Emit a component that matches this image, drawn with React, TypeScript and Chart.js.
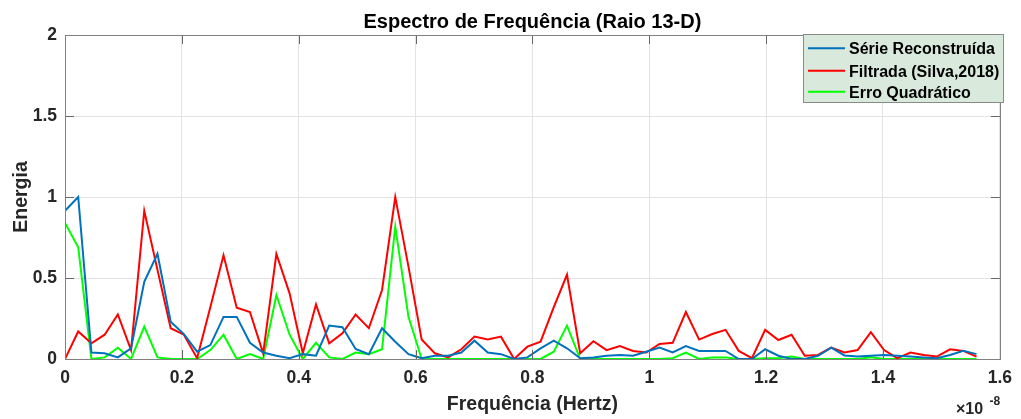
import React, { useEffect, useRef } from 'react';
import { Chart, registerables } from 'chart.js';
Chart.register(...registerables);

// frequency bin width, in units of 1e-8 Hz
const FREQ_STEP = 0.02261;

const SERIE_RECONSTRUIDA = [
  0.915, 1.0, 0.04, 0.035, 0.01, 0.066, 0.477, 0.65, 0.23, 0.154,
  0.045, 0.086, 0.26, 0.26, 0.1, 0.04, 0.02, 0.005, 0.03, 0.02,
  0.206, 0.196, 0.062, 0.03, 0.19, 0.107, 0.03, 0.005, 0.02, 0.02,
  0.04, 0.113, 0.04, 0.03, 0.0, 0.01, 0.066, 0.113, 0.066, 0.005,
  0.01, 0.02, 0.025, 0.02, 0.045, 0.07, 0.04, 0.08, 0.05, 0.05,
  0.05, 0.0, 0.0, 0.06, 0.02, 0.0, 0.0, 0.02, 0.07, 0.022,
  0.015, 0.02, 0.025, 0.02, 0.015, 0.01, 0.005, 0.025, 0.05, 0.03,
];

const FILTRADA = [
  0.0, 0.17, 0.097, 0.15, 0.275, 0.055, 0.915, 0.55, 0.19, 0.15,
  0.005, 0.32, 0.64, 0.317, 0.29, 0.035, 0.648, 0.405, 0.035, 0.337,
  0.097, 0.158, 0.275, 0.19, 0.426, 1.0, 0.57, 0.12, 0.035, 0.01,
  0.06, 0.138, 0.12, 0.138, 0.0, 0.076, 0.107, 0.32, 0.52, 0.035,
  0.11, 0.055, 0.08, 0.05, 0.04, 0.093, 0.1, 0.29, 0.12, 0.154,
  0.18, 0.05, 0.005, 0.18, 0.117, 0.15, 0.02, 0.025, 0.07, 0.04,
  0.055, 0.165, 0.055, 0.005, 0.04, 0.025, 0.015, 0.06, 0.05, 0.015,
];

const ERRO_QUADRATICO = [
  0.84, 0.69, 0.0, 0.01, 0.07, 0.0, 0.2, 0.01, 0.0, 0.0,
  0.0, 0.055, 0.15, 0.0, 0.03, 0.0, 0.395, 0.15, 0.0, 0.1,
  0.01, 0.0, 0.04, 0.03, 0.06, 0.817, 0.26, 0.0, 0.0, 0.0,
  0.0, 0.0, 0.0, 0.0, 0.0, 0.0, 0.0, 0.045, 0.206, 0.0,
  0.0, 0.0, 0.0, 0.0, 0.0, 0.0, 0.005, 0.04, 0.0, 0.01,
  0.01, 0.0, 0.0, 0.005, 0.005, 0.015, 0.0, 0.0, 0.0, 0.0,
  0.0, 0.01, 0.0, 0.0, 0.0, 0.0, 0.0, 0.0, 0.0, 0.0,
];

const X_TICKS = [0, 0.2, 0.4, 0.6, 0.8, 1, 1.2, 1.4, 1.6];
const Y_TICKS = [0, 0.5, 1, 1.5, 2];
const SERIES_LABELS = ['Série Reconstruída', 'Filtrada (Silva,2018)', 'Erro Quadrático'];
const SERIES_COLORS = ['#0072BD', '#FF0000', '#00FF00'];
const TITLE = 'Espectro de Frequência (Raio 13-D)';
const X_TITLE = 'Frequência (Hertz)';
const Y_TITLE = 'Energia';

const FONT = '"Liberation Sans", Arial, Helvetica, sans-serif';

export default function App() {
  const ref = useRef<HTMLCanvasElement>(null);

  useEffect(() => {
    const toPts = (arr: number[]) => arr.map((y, i) => ({ x: i * FREQ_STEP, y }));
    const seriesData = [SERIE_RECONSTRUIDA, FILTRADA, ERRO_QUADRATICO];

    const deco = {
      id: 'deco',
      afterDraw(chart: any) {
        const ctx = chart.ctx as CanvasRenderingContext2D;
        const a = chart.chartArea;
        const xs = chart.scales.x;
        const ys = chart.scales.y;
        ctx.save();
        // inward ticks
        ctx.strokeStyle = '#666666';
        ctx.lineWidth = 1;
        const tl = 9;
        ctx.beginPath();
        X_TICKS.forEach((v) => {
          const px = Math.round(xs.getPixelForValue(v)) + 0.5;
          ctx.moveTo(px, a.bottom);
          ctx.lineTo(px, a.bottom - tl);
          ctx.moveTo(px, a.top);
          ctx.lineTo(px, a.top + tl);
        });
        Y_TICKS.forEach((v) => {
          const py = Math.round(ys.getPixelForValue(v)) + 0.5;
          ctx.moveTo(a.left, py);
          ctx.lineTo(a.left + tl, py);
          ctx.moveTo(a.right, py);
          ctx.lineTo(a.right - tl, py);
        });
        ctx.stroke();
        // box
        ctx.strokeStyle = '#808080';
        ctx.strokeRect(Math.round(a.left) + 0.5, Math.round(a.top) + 0.5,
          Math.round(a.right - a.left), Math.round(a.bottom - a.top));

        // title
        ctx.fillStyle = '#000000';
        ctx.textAlign = 'center';
        ctx.textBaseline = 'alphabetic';
        ctx.font = `bold 20px ${FONT}`;
        ctx.fillText(TITLE, (a.left + a.right) / 2, 27.5);

        // axis titles
        ctx.fillStyle = '#262626';
        ctx.font = `bold 19.5px ${FONT}`;
        ctx.fillText(X_TITLE, (a.left + a.right) / 2, 409.5);
        ctx.save();
        ctx.translate(26.5, (a.top + a.bottom) / 2);
        ctx.rotate(-Math.PI / 2);
        ctx.fillText(Y_TITLE, 0, 0);
        ctx.restore();

        // exponent
        ctx.textAlign = 'left';
        ctx.font = `bold 16px ${FONT}`;
        ctx.fillText('×10', 956, 413.5);
        ctx.font = `bold 12px ${FONT}`;
        ctx.fillText('-8', 989.5, 405);

        // legend
        const lx = 803, ly = 34, lw = 200, lh = 68;
        ctx.fillStyle = 'rgb(217,233,220)';
        ctx.fillRect(lx, ly, lw, lh);
        ctx.strokeStyle = '#8a8a8a';
        ctx.lineWidth = 1;
        ctx.strokeRect(lx + 0.5, ly + 0.5, lw, lh);
        ctx.font = `bold 16px ${FONT}`;
        ctx.textAlign = 'left';
        ctx.textBaseline = 'alphabetic';
        const rows = [48.3, 70.7, 91.7];
        SERIES_LABELS.forEach((lab, i) => {
          ctx.strokeStyle = SERIES_COLORS[i];
          ctx.lineWidth = 2;
          ctx.beginPath();
          ctx.moveTo(808, rows[i]);
          ctx.lineTo(845, rows[i]);
          ctx.stroke();
          ctx.fillStyle = '#000000';
          ctx.fillText(lab, 849, rows[i] + 5.8);
        });
        ctx.restore();
      },
    };

    const chart = new Chart(ref.current as HTMLCanvasElement, {
      type: 'line',
      data: {
        datasets: SERIES_LABELS.map((label, i) => ({
          label,
          data: toPts(seriesData[i]),
          borderColor: SERIES_COLORS[i],
          backgroundColor: SERIES_COLORS[i],
          borderWidth: 2,
          pointRadius: 0,
          tension: 0,
          fill: false,
        })),
      },
      options: {
        responsive: false,
        animation: false,
        events: [],
        layout: { padding: { top: 35, right: 16, left: 0, bottom: 0 } },
        plugins: {
          legend: { display: false },
          title: { display: false },
          tooltip: { enabled: false },
        },
        scales: {
          x: {
            type: 'linear',
            min: 0,
            max: 1.6,
            afterBuildTicks: (s: any) => {
              s.ticks = X_TICKS.map((v) => ({ value: v }));
            },
            afterFit: (s: any) => {
              s.height = 60;
            },
            grid: { color: '#e3e3e3', lineWidth: 1, drawTicks: false },
            border: { display: false },
            ticks: {
              padding: 9,
              maxRotation: 0,
              color: '#262626',
              font: { family: FONT, size: 17.5, weight: 'bold' },
              callback: (v: any) => String(Number(v)),
            },
          },
          y: {
            min: 0,
            max: 2,
            afterBuildTicks: (s: any) => {
              s.ticks = Y_TICKS.map((v) => ({ value: v }));
            },
            afterFit: (s: any) => {
              s.width = 65;
            },
            grid: { color: '#e3e3e3', lineWidth: 1, drawTicks: false },
            border: { display: false },
            ticks: {
              padding: 8,
              color: '#262626',
              font: { family: FONT, size: 17.5, weight: 'bold' },
              callback: (v: any) => String(Number(v)),
            },
          },
        },
      },
      plugins: [deco],
    } as any);
    return () => chart.destroy();
  }, []);

  return (
    <div style={{ position: 'absolute', left: 0, top: 0, width: 1021, height: 419, background: '#ffffff' }}>
      <canvas ref={ref} width={1021} height={419} style={{ display: 'block', width: 1021, height: 419 }} />
    </div>
  );
}
